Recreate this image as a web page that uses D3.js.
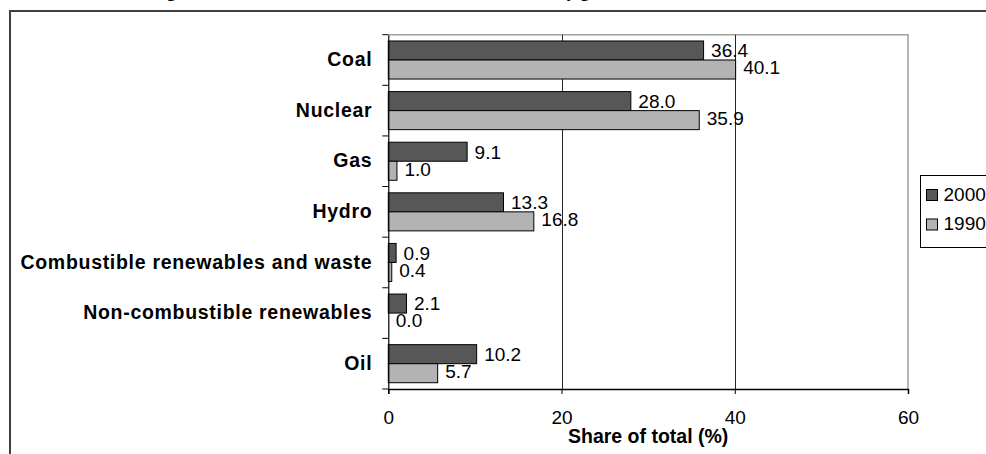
<!DOCTYPE html>
<html>
<head>
<meta charset="utf-8">
<script src="https://cdn.jsdelivr.net/npm/d3@7"></script>
<style>
  html, body { margin: 0; padding: 0; background: #fff; overflow: hidden; }
  svg { display: block; }
</style>
</head>
<body>
<svg id="chart" width="986" height="454"></svg>
<script>
// Electricity generation shares by source
const categories = ["Coal", "Nuclear", "Gas", "Hydro", "Combustible renewables and waste", "Non-combustible renewables", "Oil"];
const seriesNames = ["2000", "1990"];
const values2000 = [36.4, 28.0, 9.1, 13.3, 0.9, 2.1, 10.2];
const values1990 = [40.1, 35.9, 1.0, 16.8, 0.4, 0.0, 5.7];
const xTicks = [0, 20, 40, 60];
const titleText = "Figure 12: Shares of total fuel mix in Member States by generation source, 1990 and 2000";
const axisTitle = "Share of total (%)";

const seriesValues = { "2000": values2000, "1990": values1990 };
const colors = { "2000": "#575757", "1990": "#b3b3b3" };

const svg = d3.select("#chart");
const W = 986, H = 454;
const plot = { left: 388.3, right: 908, top: 34.7, bottom: 389 };
const FONT = "'Liberation Sans', Arial, sans-serif";

// Title (sits above the frame)
svg.append("text")
  .attr("x", 493).attr("y", -3.2)
  .attr("text-anchor", "middle")
  .style("font-family", "'Liberation Serif', 'Times New Roman', serif")
  .style("font-weight", "bold")
  .style("font-size", "18px")
  .text(titleText);

// Outer chart frame
svg.append("rect")
  .attr("x", 10).attr("y", 11)
  .attr("width", W + 20).attr("height", H + 20)
  .attr("fill", "none")
  .attr("stroke", "#404040")
  .attr("stroke-width", 2);

const x = d3.scaleLinear().domain([0, 60]).range([plot.left, plot.right]);
const y = d3.scaleBand().domain(categories).range([plot.top, plot.bottom]).paddingInner(0).paddingOuter(0);
const ySub = d3.scaleBand().domain(seriesNames).range([0, y.bandwidth()]).paddingInner(0).paddingOuter(0.33);

// Plot area border (top and right) in grey
svg.append("path")
  .attr("d", `M${plot.left},${plot.top}H${plot.right}V${plot.bottom}`)
  .attr("fill", "none")
  .attr("stroke", "#a0a0a0")
  .attr("stroke-width", 1.5);

// Vertical gridlines
svg.append("g")
  .selectAll("line")
  .data(xTicks.filter(t => t > 0 && t < 60))
  .join("line")
  .attr("x1", d => Math.round(x(d)) + 0.5).attr("x2", d => Math.round(x(d)) + 0.5)
  .attr("y1", plot.top).attr("y2", plot.bottom)
  .attr("stroke", "#262626")
  .attr("stroke-width", 1);

// Bars
const rows = categories.map((c, i) => ({ c, i }));
const groups = svg.append("g").selectAll("g")
  .data(rows)
  .join("g")
  .attr("transform", d => `translate(0,${y(d.c)})`);

groups.selectAll("rect")
  .data(d => seriesNames.map(s => ({ s, v: seriesValues[s][d.i] })))
  .join("rect")
  .attr("x", x(0))
  .attr("y", d => ySub(d.s))
  .attr("width", d => x(d.v) - x(0))
  .attr("height", ySub.bandwidth())
  .attr("fill", d => colors[d.s])
  .attr("stroke", "#000")
  .attr("stroke-width", 1);

// Value labels
groups.selectAll("text")
  .data(d => seriesNames.map(s => ({ s, v: seriesValues[s][d.i] })))
  .join("text")
  .attr("x", d => x(d.v) + 7.5)
  .attr("y", d => ySub(d.s) + ySub.bandwidth() / 2 + 6.8 - (d.s === "1990" ? 2 : 0))
  .style("font-family", FONT)
  .style("font-size", "19px")
  .attr("fill", "#000")
  .text(d => d3.format(".1f")(d.v));

// Left axis with category labels
const yAxis = svg.append("g")
  .attr("transform", `translate(${plot.left},0)`)
  .call(d3.axisLeft(y).tickSize(0).tickPadding(16));
yAxis.select(".domain").attr("stroke", "#000").attr("stroke-width", 1.2);
yAxis.selectAll("text")
  .style("font-family", FONT)
  .style("font-size", "19.5px")
  .style("font-weight", "bold")
  .style("letter-spacing", "0.7px")
  .attr("fill", "#000");

// Category boundary ticks
svg.append("g")
  .selectAll("line")
  .data(categories.map(c => y(c)).concat([plot.bottom]))
  .join("line")
  .attr("x1", plot.left - 6).attr("x2", plot.left)
  .attr("y1", d => d).attr("y2", d => d)
  .attr("stroke", "#000")
  .attr("stroke-width", 1);

// Bottom axis
const xAxis = svg.append("g")
  .attr("transform", `translate(0,${plot.bottom})`)
  .call(d3.axisBottom(x).tickValues(xTicks).tickSize(5).tickPadding(17).tickFormat(d3.format("d")));
xAxis.select(".domain").attr("stroke", "#000").attr("stroke-width", 1.5);
xAxis.selectAll(".tick line").attr("stroke", "#000");
xAxis.selectAll("text")
  .style("font-family", FONT)
  .style("font-size", "19px")
  .attr("fill", "#000");

// Axis title
svg.append("text")
  .attr("x", (plot.left + plot.right) / 2)
  .attr("y", 443)
  .attr("text-anchor", "middle")
  .style("font-family", FONT)
  .style("font-size", "19.5px")
  .style("font-weight", "bold")
  .text(axisTitle);

// Legend
const legend = svg.append("g").attr("transform", "translate(920.5,175.5)");
legend.append("rect")
  .attr("width", 100).attr("height", 72)
  .attr("fill", "#fff")
  .attr("stroke", "#000")
  .attr("stroke-width", 1);
const legendRows = [{ s: "2000", yy: 14 }, { s: "1990", yy: 43.5 }];
const li = legend.selectAll("g.item")
  .data(legendRows)
  .join("g")
  .attr("class", "item")
  .attr("transform", d => `translate(6,${d.yy})`);
li.append("rect")
  .attr("width", 11).attr("height", 11)
  .attr("fill", d => colors[d.s])
  .attr("stroke", "#000")
  .attr("stroke-width", 1);
li.append("text")
  .attr("x", 17).attr("y", 11)
  .style("font-family", FONT)
  .style("font-size", "19px")
  .text(d => d.s);
</script>
</body>
</html>
